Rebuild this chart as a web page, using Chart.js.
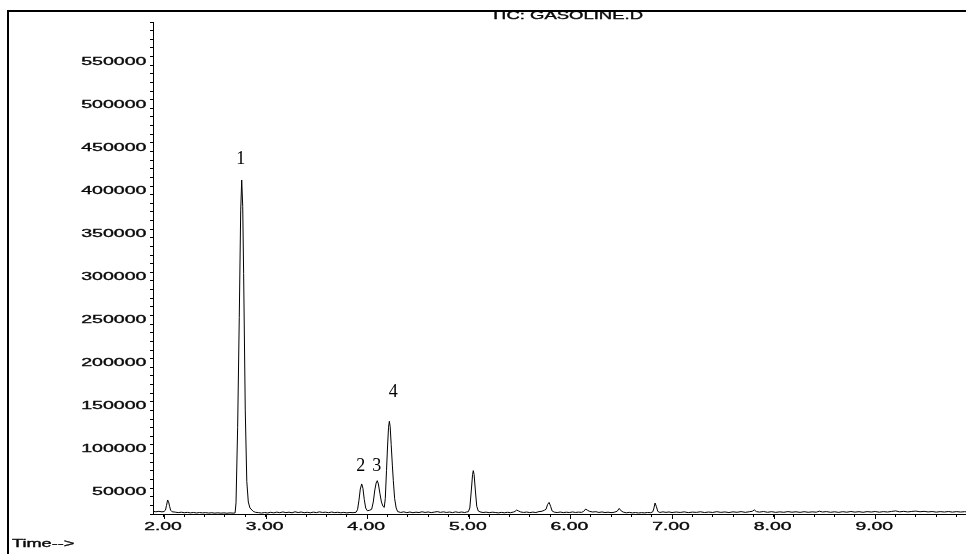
<!DOCTYPE html>
<html>
<head>
<meta charset="utf-8">
<title>TIC: GASOLINE.D</title>
<script src="https://cdn.jsdelivr.net/npm/chart.js@4.4.1/dist/chart.umd.min.js"></script>
<style>
  html, body { margin: 0; padding: 0; background: #ffffff; }
  canvas { display: block; }
</style>
</head>
<body>
<canvas id="tic" width="966" height="554"></canvas>
<script>
// Total ion chromatogram of a gasoline sample (GASOLINE.D)

// retention time, minutes
const retentionTime = [
  1.892, 1.92, 1.95, 1.98, 2.00, 2.015, 2.025, 2.036, 2.045, 2.055, 2.065, 2.08,
  2.11, 2.14, 2.17, 2.20, 2.23, 2.26, 2.29, 2.32, 2.35, 2.38, 2.41, 2.44, 2.47,
  2.50, 2.53, 2.56, 2.59, 2.62, 2.65, 2.68,
  2.700, 2.709, 2.725, 2.741, 2.755, 2.765, 2.775, 2.784, 2.800, 2.815, 2.830, 2.846, 2.879,
  2.90, 2.93, 2.96, 2.99, 3.02, 3.05, 3.08, 3.11, 3.14, 3.17, 3.20, 3.23, 3.26,
  3.29, 3.32, 3.35, 3.38, 3.41, 3.44, 3.47, 3.50, 3.53, 3.56, 3.59, 3.62, 3.65,
  3.68, 3.71, 3.74, 3.77, 3.80, 3.83, 3.86,
  3.890, 3.905, 3.919, 3.932, 3.946, 3.958, 3.971, 3.985, 4.001,
  4.020, 4.044, 4.060, 4.075, 4.088, 4.099, 4.110, 4.125, 4.140, 4.155, 4.168,
  4.178, 4.190, 4.200, 4.210, 4.218, 4.226, 4.236, 4.248, 4.257, 4.270, 4.285, 4.300,
  4.33, 4.36, 4.39, 4.42, 4.45, 4.48, 4.51, 4.54, 4.57, 4.60, 4.63, 4.66, 4.69,
  4.72, 4.75, 4.78, 4.81, 4.84, 4.87, 4.90, 4.93, 4.96, 4.980,
  4.995, 5.010, 5.025, 5.037, 5.044, 5.052, 5.064, 5.078, 5.093, 5.11,
  5.14, 5.17, 5.20, 5.23, 5.26, 5.29, 5.32, 5.35, 5.38, 5.41, 5.44,
  5.455, 5.470, 5.490, 5.51, 5.54, 5.57, 5.60, 5.63, 5.66, 5.69, 5.72,
  5.745, 5.760, 5.775, 5.790, 5.805, 5.820, 5.84, 5.87, 5.90, 5.93, 5.96, 5.99,
  6.02, 6.05, 6.08, 6.11, 6.13, 6.15, 6.17, 6.19, 6.22, 6.25, 6.28, 6.31, 6.34,
  6.37, 6.40, 6.43, 6.46, 6.48, 6.50, 6.52, 6.55, 6.58, 6.61, 6.64, 6.67, 6.70,
  6.73, 6.76, 6.79, 6.810, 6.820, 6.833, 6.845, 6.860, 6.88, 6.91, 6.94, 6.97,
  7.00, 7.04, 7.08, 7.12, 7.16, 7.20, 7.24, 7.28, 7.32, 7.36, 7.40, 7.44, 7.48,
  7.52, 7.56, 7.60, 7.64, 7.68, 7.72, 7.76, 7.79, 7.81, 7.83, 7.86, 7.90, 7.94,
  7.98, 8.02, 8.06, 8.10, 8.14, 8.18, 8.22, 8.26, 8.30, 8.34, 8.38, 8.42, 8.45,
  8.48, 8.52, 8.56, 8.60, 8.64, 8.68, 8.72, 8.76, 8.80, 8.84, 8.88, 8.92, 8.96,
  9.00, 9.04, 9.08, 9.12, 9.16, 9.20, 9.24, 9.28, 9.32, 9.36, 9.40, 9.44, 9.48,
  9.52, 9.56, 9.60, 9.64, 9.68, 9.72, 9.76, 9.80, 9.84, 9.88, 9.90
];

// total ion abundance at each retention time
const abundance = [
  27200, 26600, 27100, 26500, 26900, 28500, 34000, 40300, 38500, 33000, 28500, 26600,
  26200, 25600, 26100, 25500, 25900, 25300, 25800, 25200, 25700, 25300, 25600, 25100, 25500,
  25000, 25400, 25000, 25300, 24900, 25300, 25000,
  25300, 37000, 125000, 253000, 377000, 413000, 382000, 304000, 145000, 62000, 38000, 31000, 27000,
  26000, 25600, 25100, 25700, 25200, 26000, 25300, 26200, 25500, 26400, 25600, 26100, 25400,
  26600, 25700, 26300, 25500, 26000, 25400, 26200, 25600, 26500, 25800, 26100, 25500, 26300,
  25600, 26000, 25400, 25900, 25300, 25800, 25500,
  26000, 29000, 40000, 53000, 59000, 54000, 41000, 31000, 27800,
  28200, 29500, 38000, 52000, 60000, 62800, 59000, 48000, 38000, 33000, 31700,
  42000, 74500, 102000, 125000, 132000, 126000, 105000, 80000, 62800, 42000, 31000, 26800,
  25800, 26500, 25600, 26300, 25500, 26100, 25700, 26600, 25800, 26400, 25600, 26200, 26800,
  25900, 26500, 25800, 26300, 25600, 26500, 25800, 26300, 25700, 26400,
  26600, 31000, 52000, 70000, 74500, 70000, 52000, 33000, 27500, 26500,
  25700, 26200, 25500, 26100, 25800, 25300, 25900, 25400, 26000, 25500, 26300,
  27000, 28600, 27500, 26400, 25800, 26300, 25600, 26200, 25700, 26800, 27200,
  28500, 29500, 35000, 37500, 33000, 27500, 26200, 25700, 26300, 25600, 26100, 25700,
  26400, 25800, 26200, 25900, 27000, 29800, 28200, 27000, 26300, 26700, 25800, 26400, 25700,
  26100, 25600, 26000, 27200, 30500, 27600, 26200, 25400, 25900, 25300, 25700, 25200, 25600,
  25300, 25800, 25500, 26500, 30000, 36800, 33000, 27000, 25800, 26500, 25900, 26400,
  25700, 26300, 25800, 26500, 25600, 26200, 25900, 26600, 25700, 26300, 25800, 26700, 25900,
  26400, 25700, 26500, 26000, 26800, 25900, 26600, 27200, 28800, 26800, 26200, 26900, 26000,
  26700, 25900, 26500, 26000, 26800, 26100, 26600, 25900, 26700, 26000, 26500, 26100, 27300,
  26300, 26800, 26000, 26600, 25900, 26700, 26100, 26900, 26200, 26700, 26000, 26800, 26300,
  26900, 26100, 26800, 26300, 27000, 27600, 26500, 27100, 26400, 27000, 27400, 26600, 27100,
  26400, 26900, 26200, 26800, 26300, 26900, 26200, 26800, 26300, 26700, 26400
];

// labelled peaks (retention time of each apex)
const peakNames = ['1', '2', '3', '4'];
const peakTimes = [2.765, 3.946, 4.099, 4.218];

// axis label values
const abundanceLabels = [50000, 100000, 150000, 200000, 250000, 300000,
                         350000, 400000, 450000, 500000, 550000];
const timeLabels = [2, 3, 4, 5, 6, 7, 8, 9];

const chartTitle = 'TIC: GASOLINE.D';
const timeAxisCaption = 'Time-->';

// ---- drawing ----
const ink = '#0a0a0a';
const sansFont = "11px 'Liberation Sans', Arial, sans-serif";
const serifFont = "18px 'Liberation Serif', 'Times New Roman', serif";
// pixel nudges of each peak number relative to its apex
const peakLabelNudge = [[-1, -21], [-1, -17.5], [-0.6, -14], [4, -29]];

// printer-style wide lettering: text stretched horizontally, slightly heavy
function wideText(ctx, text, x, y, align, stretch) {
  ctx.save();
  ctx.translate(x, y);
  ctx.scale(stretch, 1);
  ctx.textAlign = align;
  ctx.fillText(text, 0, 0);
  ctx.lineWidth = 0.35;
  ctx.strokeText(text, 0, 0);
  ctx.restore();
}

const reportDecor = {
  id: 'reportDecor',
  afterDraw(chart) {
    const { ctx, chartArea } = chart;
    const xs = chart.scales.x;
    const ys = chart.scales.y;
    ctx.save();
    ctx.fillStyle = ink;
    ctx.strokeStyle = ink;
    ctx.lineWidth = 1;
    ctx.font = sansFont;

    // abundance labels
    ctx.textBaseline = 'middle';
    abundanceLabels.forEach(v => {
      wideText(ctx, String(v), chartArea.left - 6.5, ys.getPixelForValue(v), 'right', 1.78);
    });

    // time labels and their longer tick marks
    ctx.textBaseline = 'alphabetic';
    timeLabels.forEach(v => {
      const px = xs.getPixelForValue(v);
      const ax = Math.round(px) + 0.5;
      ctx.lineWidth = 1;
      ctx.beginPath();
      ctx.moveTo(ax, chartArea.bottom);
      ctx.lineTo(ax, chartArea.bottom + 5);
      ctx.stroke();
      wideText(ctx, v.toFixed(2), px - 1, chartArea.bottom + 16, 'center', 1.76);
    });

    // axis caption
    wideText(ctx, timeAxisCaption, 12, 547, 'left', 1.65);

    // peak numbers
    ctx.font = serifFont;
    ctx.textBaseline = 'middle';
    ctx.fillStyle = '#000';
    peakNames.forEach((name, i) => {
      const idx = retentionTime.indexOf(peakTimes[i]);
      const px = xs.getPixelForValue(peakTimes[i]) + peakLabelNudge[i][0];
      const py = ys.getPixelForValue(abundance[idx]) + peakLabelNudge[i][1];
      ctx.textAlign = 'center';
      ctx.fillText(name, px, py);
    });

    // report title, partly tucked under the frame
    ctx.font = sansFont;
    ctx.fillStyle = ink;
    ctx.textBaseline = 'alphabetic';
    ctx.save();
    ctx.beginPath();
    ctx.rect(0, 12, chart.width, 20);
    ctx.clip();
    wideText(ctx, chartTitle, 566.5, 18.5, 'center', 1.68);
    ctx.restore();

    // page frame
    ctx.fillStyle = '#000';
    ctx.fillRect(7, 10, chart.width - 7, 2);
    ctx.fillRect(7, 10, 2, chart.height - 10);
    ctx.restore();
  }
};

const points = retentionTime.map((t, i) => ({ x: t, y: abundance[i] }));

new Chart(document.getElementById('tic'), {
  type: 'line',
  data: {
    datasets: [{
      label: 'TIC',
      data: points,
      borderColor: '#000000',
      borderWidth: 1,
      pointRadius: 0,
      tension: 0,
      fill: false
    }]
  },
  options: {
    responsive: false,
    animation: false,
    devicePixelRatio: 1,
    layout: { padding: { top: 22, left: 0, right: 0, bottom: 0 } },
    plugins: {
      legend: { display: false },
      tooltip: { enabled: false },
      title: { display: false }
    },
    scales: {
      x: {
        type: 'linear',
        min: 1.892,
        max: 9.893,
        ticks: { display: false, stepSize: 0.2, includeBounds: false, autoSkip: false },
        grid: { display: true, drawOnChartArea: false, drawTicks: true, tickLength: 3,
                color: '#000', tickColor: '#000', tickWidth: 1 },
        border: { display: true, color: '#000', width: 1 },
        afterFit(scale) { scale.height = 40; }
      },
      y: {
        type: 'linear',
        min: 24000,
        max: 597000,
        ticks: { display: false, stepSize: 10000, includeBounds: false, autoSkip: false },
        grid: { display: true, drawOnChartArea: false, drawTicks: true, tickLength: 3,
                color: '#000', tickColor: '#000', tickWidth: 1 },
        border: { display: true, color: '#000', width: 1 },
        afterFit(scale) { scale.width = 153; }
      }
    }
  },
  plugins: [reportDecor]
});
</script>
</body>
</html>
